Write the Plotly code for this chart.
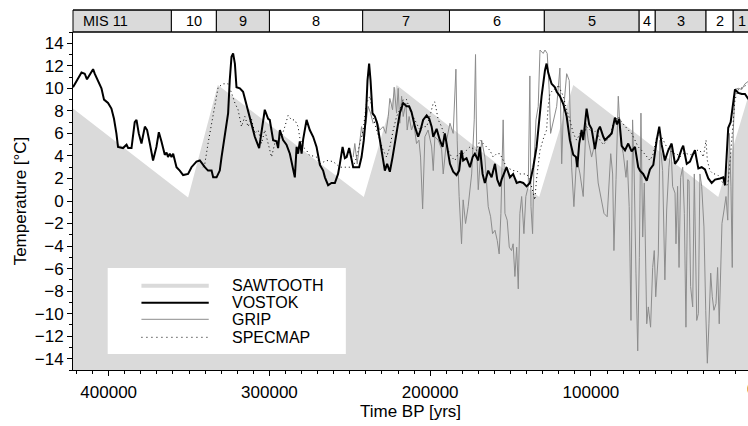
import plotly.graph_objects as go

# ---- data: age in years before present, temperature in deg C ----
SAW_AGE = [424000, 350600, 332100, 241300, 220900, 132200, 111000, 20800, 0]
SAW_T = [8.4, 0.3, 10.3, 0.35, 10.3, 0.35, 10.3, 0.35, 10.3]

VOSTOK_AGE = [
    422200, 416900, 414900, 413500, 411800, 409700, 408700, 406600, 404500, 402900,
    400400, 398300, 396700, 395200, 394200, 391100, 388900, 387900, 385800, 383800,
    382700, 381300, 379600, 377500, 376100, 374400, 372400, 370300, 368800, 367200,
    365100, 364000, 363100, 362000, 360900, 359900, 357800, 355800, 353700, 350600,
    348500, 345400, 343300, 340200, 338200, 336000, 335000, 332900, 330900, 329800,
    327800, 325700, 324700, 323600, 322600, 321500, 320500, 318400, 316400, 315300,
    313300, 311200, 309100, 306400, 304900, 302900, 300800, 299800, 297700, 295600,
    294600, 293500, 291500, 289400, 287300, 285300, 284200, 283100, 282200, 281100,
    280000, 279000, 276900, 274900, 272800, 270700, 268600, 266600, 265500, 263500,
    261400, 259300, 257300, 256200, 254500, 253100, 252000, 250400, 248900, 247900,
    245800, 244200, 242700, 241300, 240000, 239000, 238000, 237100, 235900, 234400,
    233000, 231300, 229600, 228200, 226800, 225100, 223400, 222000, 220500, 218900,
    216800, 214700, 213100, 211600, 209500, 207500, 206000, 204400, 202200, 200600,
    199100, 198100, 196000, 194000, 192300, 190900, 189800, 187700, 185700, 183600,
    182000, 180500, 179500, 177400, 175300, 173600, 172200, 170100, 169100, 167400,
    166000, 163900, 161800, 159700, 158300, 156600, 155600, 154100, 152500, 150400,
    148400, 146200, 144200, 142100, 140000, 138000, 135900, 133800, 132200, 130700,
    128600, 127600, 126600, 124500, 122400, 121300, 119300, 117200, 115100, 113100,
    111000, 109300, 108500, 107300, 105800, 104800, 102700, 101100, 99600, 98600,
    97500, 95500, 94400, 92300, 91300, 89200, 87100, 85100, 83800, 82400,
    80900, 78800, 76800, 74700, 72600, 70600, 69500, 67500, 65300, 63300,
    61200, 59100, 57500, 56000, 54000, 51900, 49800, 47700, 45700, 43600,
    42600, 40400, 38400, 36700, 35300, 33200, 31100, 29100, 27000, 24900,
    22800, 19700, 17700, 16600, 14600, 13100, 11500, 10400, 8300, 6200,
    4200, 2300, 0,
]
VOSTOK_T = [
    10.1, 11.4, 11.3, 10.8, 11.2, 11.7, 11.3, 10.7, 10.0, 9.0,
    8.7, 8.2, 7.3, 6.0, 4.8, 4.7, 5.0, 4.7, 4.7, 7.0,
    7.2, 6.0, 5.1, 6.6, 6.3, 5.1, 3.6, 4.8, 6.1, 5.3,
    4.1, 4.3, 3.9, 4.2, 3.9, 4.2, 3.0, 2.7, 2.3, 2.4,
    3.0, 3.5, 3.6, 3.0, 2.7, 2.7, 2.1, 2.1, 2.7, 3.9,
    5.7, 7.8, 10.7, 12.8, 13.1, 12.2, 10.1, 10.0, 9.7, 9.1,
    8.2, 7.0, 5.7, 4.7, 6.3, 8.1, 7.3, 7.2, 5.4, 5.3,
    4.7, 6.3, 5.4, 5.0, 4.2, 3.0, 2.1, 4.8, 4.2, 5.3,
    4.2, 5.5, 7.2, 6.3, 5.7, 4.8, 3.2, 2.7, 2.1, 1.4,
    1.6, 1.6, 2.4, 3.3, 4.8, 3.8, 3.9, 4.7, 3.6, 3.0,
    3.0, 3.0, 3.9, 5.4, 7.5, 10.7, 12.2, 10.7, 7.8, 7.5,
    6.9, 5.4, 3.9, 2.7, 3.3, 2.6, 3.9, 5.1, 6.3, 7.8,
    8.7, 8.4, 8.4, 7.9, 6.6, 5.7, 6.3, 7.2, 7.6, 7.3,
    6.6, 5.7, 6.4, 5.4, 4.8, 6.0, 5.1, 3.3, 2.6, 2.3,
    2.7, 4.5, 3.6, 3.8, 3.0, 3.9, 4.2, 3.6, 4.8, 2.4,
    1.6, 2.7, 2.1, 3.3, 1.9, 1.3, 1.9, 2.4, 3.0, 2.1,
    2.4, 1.6, 1.7, 1.6, 1.3, 1.6, 3.0, 4.8, 7.2, 9.3,
    11.6, 12.2, 11.4, 10.4, 10.1, 9.7, 9.3, 8.6, 7.5, 5.4,
    4.1, 3.9, 3.0, 5.1, 6.3, 5.4, 8.2, 6.8, 6.4, 5.6,
    4.6, 6.3, 6.6, 5.7, 5.4, 5.7, 6.0, 7.4, 6.8, 7.3,
    4.9, 4.5, 5.1, 4.4, 4.8, 3.0, 2.7, 2.4, 1.8, 2.8,
    3.2, 5.4, 6.6, 5.0, 3.6, 4.5, 5.1, 3.3, 3.7, 4.6,
    4.9, 3.3, 3.5, 4.1, 4.5, 2.9, 3.0, 2.8, 2.0, 1.6,
    1.9, 2.0, 2.1, 1.4, 6.5, 7.0, 8.5, 9.9, 9.6, 9.5,
    9.5, 9.1, 9.2,
]

GRIP_AGE = [
    247900, 246900, 245400, 243800, 242700, 241700, 240000, 238600, 237100, 235500,
    233400, 231300, 229300, 227600, 226100, 225100, 223400, 222400, 220900, 219900,
    218900, 217800, 216800, 215100, 214300, 213100, 211600, 210200, 208500, 207000,
    206000, 204700, 203300, 201300, 199100, 198100, 197100, 195000, 192900, 191900,
    189800, 187700, 185700, 184000, 183200, 182000, 180500, 179500, 178000, 176400,
    174200, 172600, 171800, 171100, 170100, 168000, 166000, 163900, 162400, 161200,
    159700, 158300, 157100, 156000, 154600, 153500, 152100, 150800, 149400, 148400,
    147300, 146200, 145200, 144200, 143100, 141700, 140500, 139000, 138000, 137300,
    136300, 135500, 134200, 132800, 131700, 129700, 128600, 127200, 126000, 125100,
    123500, 121300, 119300, 118200, 117200, 115100, 113500, 112000, 110600, 108900,
    106800, 104800, 103100, 101700, 99600, 97500, 95500, 94400, 91900, 89900,
    87700, 86500, 85700, 84400, 83000, 81500, 79900, 78200, 77400, 76200,
    75100, 74100, 73100, 72000, 70900, 69900, 68900, 67800, 66800, 65300,
    64300, 62900, 61600, 60600, 59700, 58100, 57100, 55400, 54000, 52900,
    51500, 50200, 49200, 47700, 47100, 46100, 45200, 44200, 42900, 41900,
    40900, 39800, 39000, 38000, 36700, 35700, 34200, 33200, 32200, 31100,
    29700, 28600, 27600, 26600, 25500, 24500, 23500, 22200, 21200, 20200,
    19300, 18500, 17200, 16000, 14900, 13900, 12900, 12100, 11500, 10400,
    8300, 6200, 4200, 2300, 0,
]
GRIP_T = [
    3.9, 5.1, 3.3, 5.1, 6.6, 5.7, 6.9, 8.4, 7.8, 6.9,
    7.2, 6.3, 6.6, 6.0, 7.5, 9.1, 8.1, 10.1, 7.8, 10.0,
    6.9, 9.3, 7.5, 8.7, 6.3, 7.5, 6.3, 6.9, 5.1, 5.4,
    3.9, -0.7, 5.7, 6.3, 4.8, 2.7, 5.7, 5.4, 4.6, 2.4,
    5.4, 6.9, 6.0, 11.7, 5.4, 0.4, -3.8, 0.1, -2.0, -0.5,
    2.4, 7.2, 13.0, 4.8, 1.0, 5.4, 3.9, -0.5, -1.4, -2.9,
    -2.6, -3.5, -4.7, -1.1, 7.2, -1.1, -1.7, -4.1, -4.4, -3.8,
    -6.7, -4.1, -7.8, -1.1, 0.4, -2.9, 0.4, 1.3, 11.1, -0.5,
    -2.9, 3.0, 7.2, 8.4, 13.4, 13.1, 13.4, 13.1, 9.9, 6.0,
    6.9, 8.4, 11.8, 3.3, 7.8, 11.3, 10.7, 3.0, -0.5, 3.9,
    2.4, 0.4, 6.9, 5.4, 3.9, 5.1, 1.6, 0.8, -1.1, -1.4,
    4.2, 2.4, -4.4, 1.9, 9.3, 5.4, 4.2, 2.1, 3.6, -0.5,
    -10.6, 7.2, 2.4, -6.4, -13.3, -5.0, 7.8, -3.2, 1.6, -10.9,
    -9.4, -11.2, -5.9, -4.4, -8.5, -4.7, 5.4, 2.7, -7.0, -0.8,
    3.0, 4.8, 1.3, 0.7, -3.8, 1.3, -5.9, 2.1, 3.0, -1.1,
    -11.2, 1.9, 1.8, -7.6, -9.4, 2.4, -10.6, -10.0, 2.4, 1.3,
    -2.3, -9.7, -14.4, -10.9, -6.4, -8.5, -9.7, -9.1, -5.9, -10.9,
    -6.4, -2.0, -0.8, 0.4, -1.7, 6.0, 1.3, -5.9, 6.0, 9.9,
    10.0, 9.9, 10.4, 10.6, 10.6,
]

SPECMAP_AGE = [
    341300, 340200, 338200, 336000, 334000, 331900, 328800, 325700, 323600, 321500,
    319500, 317400, 315300, 313300, 311200, 309100, 307000, 304900, 302900, 300800,
    298700, 296700, 294600, 292500, 290400, 288400, 286300, 284200, 282200, 281100,
    279000, 276900, 274900, 272800, 270700, 268600, 264500, 260400, 256200, 252000,
    247900, 245800, 243800, 241700, 239600, 237500, 235500, 233400, 231300, 229300,
    227100, 225100, 223000, 220900, 218900, 216800, 214700, 212600, 210600, 208500,
    206400, 204400, 202200, 200200, 198100, 197100, 195000, 192900, 190900, 188800,
    186700, 184600, 182600, 179500, 177400, 175300, 171100, 169100, 167000, 164900,
    162900, 160800, 158700, 156600, 154600, 152500, 148400, 146200, 144200, 140000,
    138000, 135900, 134900, 133800, 132800, 131700, 129700, 127600, 126600, 125500,
    123500, 121300, 120400, 119300, 117200, 115100, 113100, 111000, 108900, 106800,
    104800, 102700, 100600, 98600, 96500, 94400, 92300, 88200, 86100, 83000,
    80900, 78800, 76800, 74700, 72600, 70600, 68500, 65300, 63300, 61200,
    59100, 57100, 55000, 52900, 50800, 48800, 46700, 44600, 42600, 40400,
    38400, 36300, 34200, 32200, 30100, 28400, 27600, 26000, 23900, 21800,
    19700, 17700, 15600, 14600, 13500, 12400, 11500, 10400, 8300, 5200,
    2300, 0,
]
SPECMAP_T = [
    3.0, 3.3, 5.1, 6.9, 8.4, 10.1, 10.4, 10.4, 9.6, 8.7,
    8.1, 6.6, 7.5, 6.6, 7.3, 6.0, 6.3, 5.1, 6.3, 5.1,
    3.9, 5.1, 5.4, 5.7, 6.6, 7.6, 7.2, 7.2, 6.6, 5.6,
    4.8, 4.5, 4.0, 4.0, 3.9, 3.3, 3.6, 3.5, 3.0, 3.0,
    3.0, 3.9, 5.1, 6.3, 8.7, 9.3, 7.5, 6.3, 5.4, 4.5,
    3.9, 4.8, 6.3, 7.5, 8.1, 9.0, 9.0, 8.1, 7.5, 6.9,
    6.3, 6.6, 6.6, 7.5, 8.7, 8.8, 7.2, 6.6, 5.5, 4.5,
    3.9, 3.6, 4.2, 4.2, 4.5, 4.8, 4.5, 5.4, 5.1, 4.8,
    4.5, 3.9, 4.2, 4.2, 3.6, 3.0, 2.7, 2.7, 2.4, 2.4,
    1.9, 0.7, 0.1, 2.0, 3.5, 4.5, 5.5, 6.3, 8.4, 9.5,
    9.9, 10.0, 10.3, 9.9, 9.3, 8.1, 7.2, 6.0, 5.4, 6.0,
    5.7, 6.6, 6.3, 6.0, 6.3, 5.4, 5.0, 5.7, 6.9, 7.5,
    7.0, 6.6, 6.3, 6.0, 5.4, 4.8, 4.5, 3.9, 3.6, 4.2,
    5.7, 6.0, 5.4, 4.8, 4.5, 4.2, 4.2, 3.9, 4.2, 4.2,
    4.1, 4.2, 4.5, 4.5, 3.9, 5.4, 3.6, 2.7, 2.4, 2.4,
    2.1, 1.5, 1.3, 1.8, 3.5, 5.4, 7.5, 9.0, 9.9, 10.1,
    10.4, 10.5,
]

# marine isotope stages and their boundaries (years BP)
MIS_LABELS = ["MIS 11", "10", "9", "8", "7", "6", "5", "4", "3", "2", "1"]
MIS_BOUNDS = [424000, 361000, 333000, 300000, 242000, 188000, 129000,
              70000, 60000, 28400, 11500, 0]

X_TICKS = [400000, 300000, 200000, 100000]
X_RANGE = [422200, 2300]
Y_RANGE = [-15, 15]

LEGEND_NAMES = ["SAWTOOTH", "VOSTOK", "GRIP", "SPECMAP"]

FILL = "#dadada"
GRIP_COLOR = "#8c8c8c"
FONT = "Liberation Sans, Arial, Helvetica, sans-serif"

fig = go.Figure()

# sawtooth envelope, filled down to the bottom of the temperature axis
fig.add_trace(go.Scatter(x=SAW_AGE, y=[Y_RANGE[0]] * len(SAW_AGE), mode="lines",
                         line=dict(width=0, color=FILL), hoverinfo="skip"))
fig.add_trace(go.Scatter(x=SAW_AGE, y=SAW_T, mode="lines", name="SAWTOOTH",
                         line=dict(width=0, color=FILL), fill="tonexty",
                         fillcolor=FILL))
fig.add_trace(go.Scatter(x=GRIP_AGE, y=GRIP_T, mode="lines", name="GRIP",
                         line=dict(color=GRIP_COLOR, width=1)))
fig.add_trace(go.Scatter(x=SPECMAP_AGE, y=SPECMAP_T, mode="lines", name="SPECMAP",
                         line=dict(color="black", width=1, dash="1px,3px")))
fig.add_trace(go.Scatter(x=VOSTOK_AGE, y=VOSTOK_T, mode="lines", name="VOSTOK",
                         line=dict(color="black", width=2)))

shapes = []
annotations = []

# stage band above the plot
band_y0, band_y1 = 1.0, 1.065
for i, label in enumerate(MIS_LABELS):
    a0, a1 = MIS_BOUNDS[i], MIS_BOUNDS[i + 1]
    shapes.append(dict(type="rect", xref="x", yref="paper", x0=a0, x1=a1,
                       y0=band_y0, y1=band_y1,
                       fillcolor=FILL if i % 2 == 0 else "white",
                       line=dict(color="black", width=1)))
    if i == 0:
        annotations.append(dict(x=417000, y=(band_y0 + band_y1) / 2, xref="x",
                                yref="paper", text=label, showarrow=False,
                                xanchor="left", yanchor="middle",
                                font=dict(size=14.5, family=FONT, color="black")))
    else:
        annotations.append(dict(x=(a0 + a1) / 2, y=(band_y0 + band_y1) / 2,
                                xref="x", yref="paper", text=label,
                                showarrow=False, xanchor="center",
                                yanchor="middle",
                                font=dict(size=14.5, family=FONT, color="black")))
shapes.append(dict(type="rect", xref="paper", yref="paper", x0=0, x1=1.02,
                   y0=band_y0, y1=band_y1, line=dict(color="black", width=1)))

# legend panel
shapes.append(dict(type="rect", xref="paper", yref="paper", x0=0.0514, x1=0.4042,
                   y0=0.047, y1=0.302, fillcolor="white", line=dict(width=0),
                   layer="above"))
legend_rows = [0.2494, 0.1991, 0.150, 0.0967]
legend_styles = [
    dict(color=FILL, width=4),
    dict(color="black", width=2),
    dict(color=GRIP_COLOR, width=1),
    dict(color="black", width=1, dash="1px,4px"),
]
for name, yy, style in zip(LEGEND_NAMES, legend_rows, legend_styles):
    shapes.append(dict(type="line", xref="paper", yref="paper", x0=0.1014,
                       x1=0.2011, y0=yy, y1=yy, line=style))
    annotations.append(dict(x=0.2323, y=yy, xref="paper", yref="paper", text=name,
                            showarrow=False, xanchor="left", yanchor="middle",
                            font=dict(size=16, family=FONT, color="black")))

# the zero label sits just past the right edge of the plot
annotations.append(dict(x=1.0055, y=0, xref="paper", yref="paper", text="0",
                        showarrow=False, xanchor="center", yanchor="top",
                        yshift=-8, font=dict(size=17, family=FONT, color="black")))

fig.update_layout(
    width=748, height=426,
    margin=dict(l=73, r=0, t=32, b=56),
    paper_bgcolor="white", plot_bgcolor="white",
    showlegend=False,
    font=dict(family=FONT, size=17, color="black"),
    shapes=shapes, annotations=annotations,
)
fig.update_xaxes(
    range=X_RANGE, tickvals=X_TICKS, ticktext=[str(v) for v in X_TICKS],
    ticks="outside", ticklen=5, tickwidth=1, tickcolor="black",
    showline=True, linecolor="black", linewidth=1,
    showgrid=False, zeroline=False,
    minor=dict(dtick=10000, tick0=0, ticks="outside", ticklen=3,
               tickcolor="black", showgrid=False),
    tickfont=dict(size=17), ticklabelstandoff=2,
    title=dict(text="Time BP [yrs]", standoff=3, font=dict(size=17)),
)
fig.update_yaxes(
    range=Y_RANGE, dtick=2, tick0=0,
    ticks="outside", ticklen=5, tickwidth=1, tickcolor="black",
    showline=True, linecolor="black", linewidth=1,
    showgrid=False, zeroline=False,
    minor=dict(dtick=1, tick0=0, ticks="outside", ticklen=3,
               tickcolor="black", showgrid=False),
    tickfont=dict(size=17),
    title=dict(text="Temperature [°C]", standoff=3, font=dict(size=17)),
)

fig.write_html("out.html")
